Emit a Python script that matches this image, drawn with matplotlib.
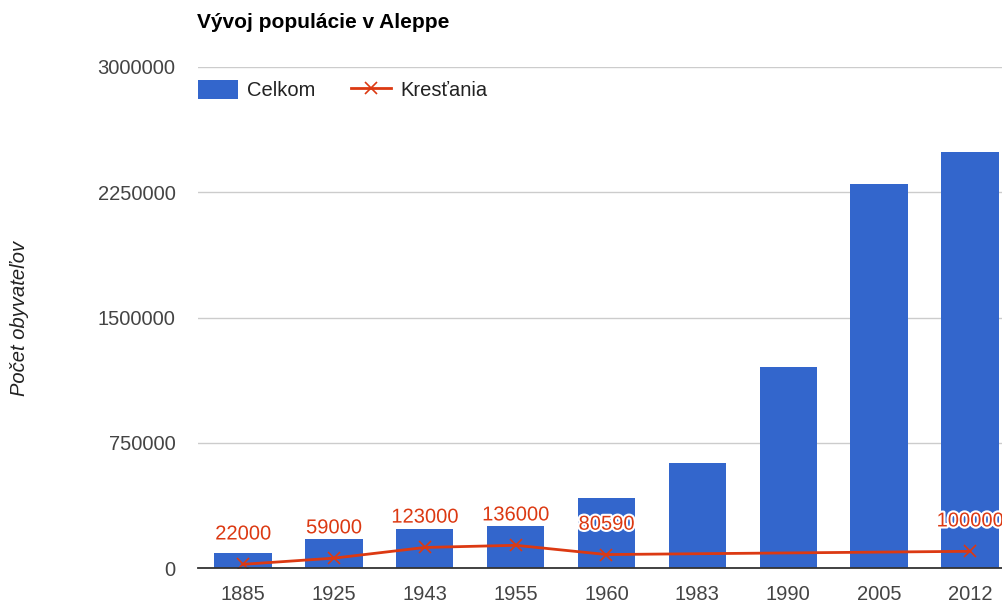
import matplotlib.pyplot as plt
import matplotlib.patheffects as pe
import numpy as np

years = ["1885", "1925", "1943", "1955", "1960", "1983", "1990", "2005", "2012"]
celkom = [92000, 172000, 232000, 251000, 420000, 628000, 1205000, 2300000, 2490000]
krestania = [22000, 59000, 123000, 136000, 80590, None, None, None, 100000]
yticks = [0, 750000, 1500000, 2250000, 3000000]

blue = "#3366cc"
red = "#dc3912"

plt.rcParams['font.family'] = ['Liberation Sans', 'DejaVu Sans']

fig = plt.figure(figsize=(10.02, 6.03), dpi=100)
ax = fig.add_axes([197.6 / 1002, 35 / 603, 817.8 / 1002, 501 / 603])

x = np.arange(len(years))
bars = ax.bar(x, celkom, width=0.63, color=blue, zorder=2, label="Celkom")

# line only through known values (nulls are skipped like in the original)
kx = [i for i, v in enumerate(krestania) if v is not None]
ky = [v for v in krestania if v is not None]
line, = ax.plot(kx, ky, color=red, lw=2, marker="x", ms=8, mew=1.2, zorder=3, label="Kresťania")

for i, v in zip(kx, ky):
    ax.annotate(str(v), (i, v), xytext=(0, 15), textcoords="offset points",
                ha="center", va="bottom", color=red, fontsize=14.5, zorder=4,
                path_effects=[pe.withStroke(linewidth=3, foreground="white")])

ax.set_xlim(-0.5, len(years) - 0.5)
ax.set_ylim(0, 3000000)
ax.set_xticks(x)
ax.set_xticklabels(years)
ax.set_yticks(yticks)
ax.set_yticklabels([str(t) for t in yticks])
ax.tick_params(axis="both", length=0, labelsize=14.5, colors="#444444")
ax.tick_params(axis="y", pad=16)
ax.tick_params(axis="x", pad=12)
ax.grid(axis="y", color="#cccccc", lw=1, zorder=0)
ax.set_axisbelow(True)
for s in ["top", "right", "left"]:
    ax.spines[s].set_visible(False)
ax.spines["bottom"].set_color("#333333")
ax.spines["bottom"].set_linewidth(1.3)
ax.spines["bottom"].set_zorder(5)

fig.text(197 / 1002, 1 - 22 / 603, "Vývoj populácie v Aleppe", fontsize=15,
         fontweight="bold", ha="left", va="center", color="black")
fig.text(20 / 1002, 1 - 318 / 603, "Počet obyvateľov", fontsize=14.5, style="italic",
         rotation=90, ha="center", va="center", color="#222222")

fig.legend([bars, line], ["Celkom", "Kresťania"], loc="upper left",
           bbox_to_anchor=(180 / 1002, 1 - 62 / 603), ncol=2,
           frameon=False, fontsize=14.5, handlelength=2.0, handleheight=1.05,
           handletextpad=0.45, columnspacing=1.75, labelcolor="#222222")

fig.savefig("out.png", dpi=100)
